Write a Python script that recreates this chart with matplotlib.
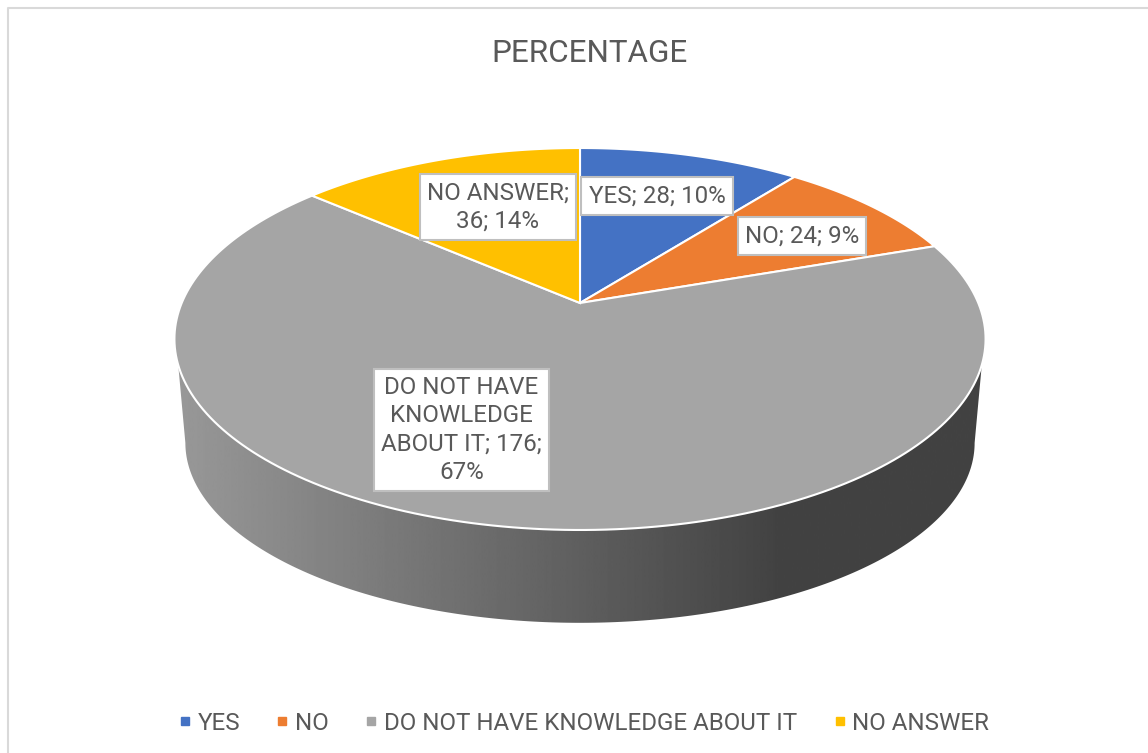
import matplotlib
matplotlib.use("Agg")
import matplotlib.pyplot as plt
import numpy as np
from matplotlib.lines import Line2D
from matplotlib.patches import Polygon

plt.rcParams["font.family"] = ["Roboto", "DejaVu Sans"]

categories = ["YES", "NO", "DO NOT HAVE KNOWLEDGE ABOUT IT", "NO ANSWER"]
counts = [28, 24, 176, 36]
percents = [10, 9, 67, 14]
wrapped_names = ["YES", "NO", "DO NOT HAVE\nKNOWLEDGE\nABOUT IT", "NO ANSWER"]
breaks = ["", "", "; {c};\n{p}%", ";\n{c}; {p}%"]
colors = ["#4472C4", "#ED7D31", "#A5A5A5", "#FFC000"]
label_centers = [(657, 196), (802, 236), (461.5, 430), (498, 207)]

TEXT = "#595959"
# perspective of the pie disc, in pixels
CX, CY = 580, 303
A, B, K = 398.3, 184.2, 0.1885


def disc(theta, sx=1.0, sy=1.0, y0=CY):
    # theta is clockwise from the top, like the Excel pie
    x_unit, y_unit = np.sin(theta), np.cos(theta)
    w = 1 + K * y_unit
    return np.column_stack([CX + sx * A * x_unit / w, y0 - sy * B * y_unit / w])


def draw_wall(ax):
    # side of the pie: straight edge down, then the lower rim, filled with a grey ramp
    t_top_r = np.pi - np.arcsin(np.sqrt(1 - 0.317**2))
    t_low_r = np.pi - np.arcsin(np.sqrt(1 - K**2))
    rim = disc(np.linspace(t_low_r, 2 * np.pi - t_low_r, 240), 0.973, 0.942, 409)
    top_r = disc(np.array([t_top_r]))
    top_l = disc(np.array([2 * np.pi - t_top_r]))
    outline = np.vstack([[CX, CY], top_r, rim, top_l])
    patch = Polygon(outline, closed=True, fc="none", ec="none")
    ax.add_patch(patch)
    xs = np.linspace(170, 990, 600)
    ramp = np.interp(xs, [178, 780], [0x98, 0x42]) / 255
    im = ax.imshow(ramp[None, :], extent=(170, 990, 640, 140), cmap="gray", vmin=0, vmax=1,
                   aspect="auto", zorder=1)
    im.set_clip_path(patch)


def draw_slices(ax):
    edges = np.cumsum([0] + counts) / sum(counts) * 2 * np.pi
    for start, stop, color in zip(edges[:-1], edges[1:], colors):
        arc = disc(np.linspace(start, stop, 200))
        ax.add_patch(Polygon(np.vstack([[CX, CY], arc]), closed=True, fc=color, ec="white",
                             lw=1.5, joinstyle="miter", zorder=2))


def main():
    fig = plt.figure(figsize=(11.48, 7.53), dpi=100)
    ax = fig.add_axes([0, 0, 1, 1])

    draw_wall(ax)
    draw_slices(ax)

    # chart frame runs off the right and bottom of the crop
    ax.plot([8, 8, 1148], [753, 8, 8], color="#D9D9D9", lw=1.5, zorder=0)

    ax.text(590, 53.5, "PERCENTAGE", ha="center", va="center", fontsize=22.6, color=TEXT)

    for i, (x, y) in enumerate(label_centers):
        tail = breaks[i].format(c=counts[i], p=percents[i]) if breaks[i] else f"; {counts[i]}; {percents[i]}%"
        ax.text(x, y, wrapped_names[i] + tail, ha="center", va="center", fontsize=17.4, color=TEXT,
                linespacing=1.28, zorder=3,
                bbox=dict(boxstyle="square,pad=0.3", fc="white", ec="#BFBFBF", lw=1.5))

    handles = [Line2D([], [], ls="none", marker="s", ms=5.8, mfc=c, mec=c) for c in colors]
    ax.legend(handles, categories, loc="center", bbox_to_anchor=(585 / 1148, 1 - 723 / 753), ncol=4,
              frameon=False, fontsize=17.35, labelcolor=TEXT, handlelength=0.33, handletextpad=0.36,
              columnspacing=1.6, borderpad=0, borderaxespad=0)

    ax.set_xlim(0, 1148)
    ax.set_ylim(753, 0)
    ax.axis("off")
    fig.savefig("out.png", dpi=100, facecolor="white")


if __name__ == "__main__":
    main()
